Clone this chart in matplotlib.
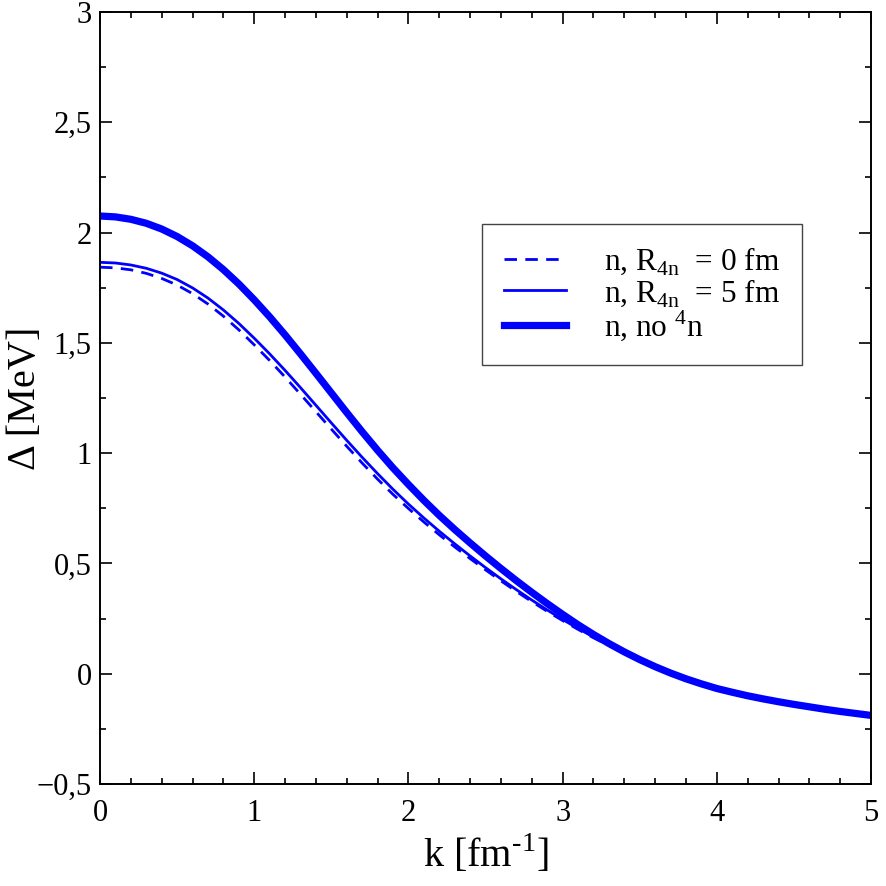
"""
Pairing gap vs momentum for neutron matter with and without 4n clusters.
"""

import matplotlib
matplotlib.use('Agg')
import matplotlib.pyplot as plt
from matplotlib.ticker import MultipleLocator, FuncFormatter

# Momentum grid [fm^-1]
K = [0.0, 0.1, 0.2, 0.3, 0.4, 0.5, 0.6, 0.7, 0.8, 0.9,
     1.0, 1.1, 1.2, 1.3, 1.4, 1.5, 1.6, 1.7, 1.8, 1.9,
     2.0, 2.1, 2.2, 2.3, 2.4, 2.5, 2.6, 2.7, 2.8, 2.9,
     3.0, 3.1, 3.2, 3.3, 3.4, 3.5, 3.6, 3.7, 3.8, 3.9,
     4.0, 4.1, 4.2, 4.3, 4.4, 4.5, 4.6, 4.7, 4.8, 4.9, 5.0]

# Gap [MeV], R_4n = 0 fm
GAP_R0 = [1.843, 1.840, 1.831, 1.815, 1.792, 1.762, 1.723, 1.676, 1.621, 1.559,
          1.491, 1.420, 1.345, 1.267, 1.188, 1.109, 1.031, 0.955, 0.882, 0.813,
          0.749, 0.688, 0.630, 0.575, 0.522, 0.471, 0.421, 0.373, 0.327, 0.283,
          0.241, 0.201, 0.163, 0.128, 0.093, 0.060, 0.029, 0.001, -0.024, -0.047,
          -0.067, -0.085, -0.101, -0.115, -0.127, -0.139, -0.150, -0.160, -0.170, -0.179, -0.187]

# Gap [MeV], R_4n = 5 fm
GAP_R5 = [1.865, 1.862, 1.853, 1.838, 1.816, 1.787, 1.749, 1.703, 1.649, 1.588,
          1.521, 1.450, 1.375, 1.297, 1.217, 1.137, 1.058, 0.981, 0.907, 0.836,
          0.769, 0.706, 0.646, 0.589, 0.534, 0.481, 0.430, 0.381, 0.334, 0.289,
          0.246, 0.205, 0.167, 0.131, 0.096, 0.063, 0.031, 0.003, -0.022, -0.045,
          -0.065, -0.083, -0.099, -0.113, -0.125, -0.137, -0.148, -0.158, -0.168, -0.177, -0.185]

# Gap [MeV], no 4n
GAP_NO4N = [2.075, 2.071, 2.060, 2.042, 2.016, 1.982, 1.940, 1.890, 1.832, 1.767,
            1.695, 1.618, 1.536, 1.450, 1.362, 1.273, 1.184, 1.097, 1.013, 0.933,
            0.858, 0.786, 0.718, 0.654, 0.593, 0.534, 0.477, 0.422, 0.369, 0.318,
            0.269, 0.222, 0.178, 0.137, 0.099, 0.064, 0.032, 0.003, -0.023, -0.046,
            -0.067, -0.084, -0.100, -0.114, -0.127, -0.139, -0.150, -0.161, -0.171, -0.180, -0.189]

LABELS = [r'n, R$_{\mathregular{4n}}$  = 0 fm',
          r'n, R$_{\mathregular{4n}}$  = 5 fm',
          r'n, no $^{\mathregular{4}}$n']

plt.rcParams['font.family'] = ['Liberation Serif', 'DejaVu Serif']
plt.rcParams['mathtext.fontset'] = 'custom'
plt.rcParams['mathtext.rm'] = 'Liberation Serif'


def fmt(v, pos):
    s = f'{v:g}'.replace('.', ',')
    return s.replace('-', '\u2212')


def main():
    fig = plt.figure(figsize=(8.86, 8.86), dpi=100)
    ax = fig.add_axes([0.1129, 0.1151, 0.8702, 0.8714])

    blue = '#0000ff'
    ax.plot(K, GAP_R0, color=blue, linewidth=2.0, dashes=(4.5, 3), label=LABELS[0])
    ax.plot(K, GAP_R5, color=blue, linewidth=2.0, label=LABELS[1])
    ax.plot(K, GAP_NO4N, color=blue, linewidth=5.2, label=LABELS[2])

    ax.set_xlim(0, 5)
    ax.set_ylim(-0.5, 3)
    ax.xaxis.set_major_locator(MultipleLocator(1))
    ax.xaxis.set_minor_locator(MultipleLocator(0.2))
    ax.yaxis.set_major_locator(MultipleLocator(0.5))
    ax.yaxis.set_minor_locator(MultipleLocator(0.25))
    ax.xaxis.set_major_formatter(FuncFormatter(fmt))
    ax.yaxis.set_major_formatter(FuncFormatter(fmt))

    ax.tick_params(which='both', direction='in', top=True, right=True, width=1.2)
    ax.tick_params(which='major', length=8.5, labelsize=22)
    ax.tick_params(which='minor', length=4.3)
    ax.tick_params(axis='x', which='major', pad=11)
    ax.tick_params(axis='y', which='major', pad=6)
    for sp in ax.spines.values():
        sp.set_linewidth(1.4)

    ax.set_xlabel('k [fm$^{\\mathregular{\u20101}}$]', fontsize=29, labelpad=4)
    ax.set_ylabel('\u0394 [MeV]', fontsize=29, va='center')
    ax.yaxis.set_label_coords(-0.097, 0.5)

    leg = ax.legend(loc='upper left', bbox_to_anchor=(0.4955, 0.7254), borderaxespad=0,
                    fontsize=22.5, fancybox=False, framealpha=1, edgecolor='#444444',
                    handlelength=2.0, handletextpad=1.2, labelspacing=0.0, borderpad=0.7)
    leg.get_frame().set_linewidth(1.0)

    fig.savefig('out.png', dpi=100)
    plt.close(fig)


if __name__ == '__main__':
    main()
